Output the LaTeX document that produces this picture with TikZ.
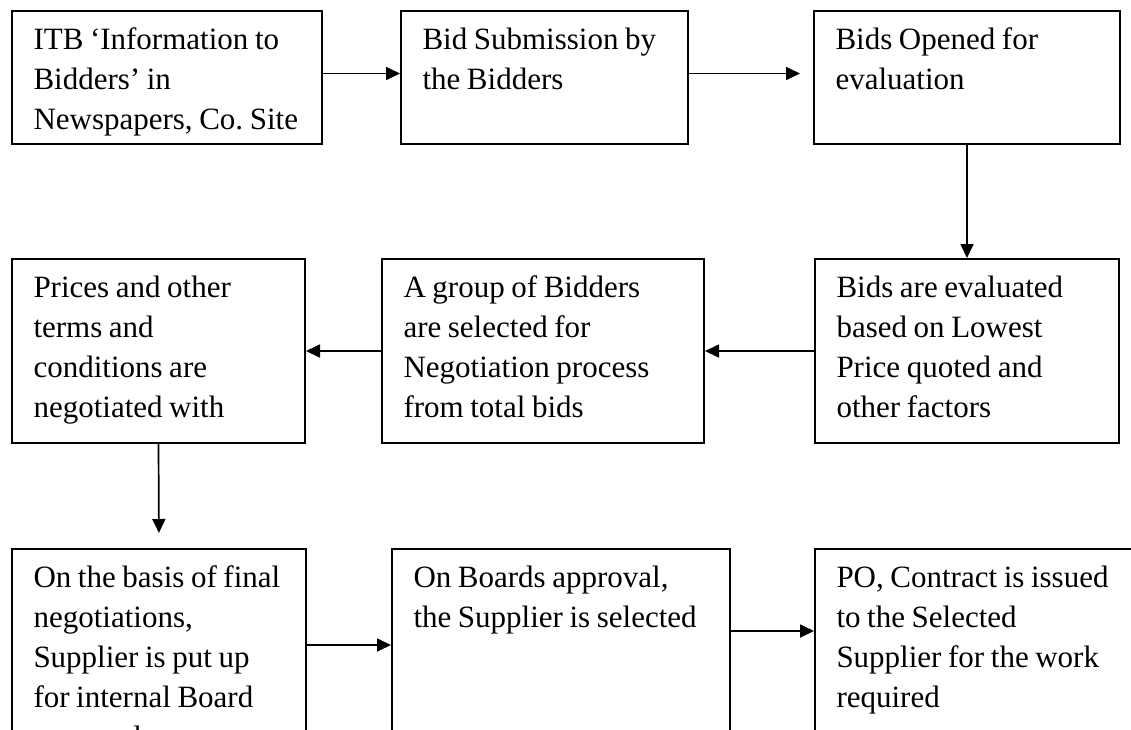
\documentclass[tikz,border=0pt]{standalone}
\usepackage{fontspec}
\setmainfont{Liberation Serif}[WordSpace=0.85]
\usetikzlibrary{positioning, arrows.meta}
\tikzset{
  stage/.style = {draw, line width=1pt, anchor=north west, align=flush left,
                  font={\fontsize{15.5}{20}\selectfont\frenchspacing\hyphenpenalty=10000},
                  inner xsep=10.75pt, inner ysep=4pt, text height=15pt},
  arr/.style   = {-{Triangle[length=7pt, width=6.5pt]}, line width=0.85pt}
}

\begin{document}
\begin{tikzpicture}[x=0.5pt, y=-0.5pt]
        \useasboundingbox (0,0) rectangle (1131,729);
        \clip (0,0) rectangle (1131,729);
        % top row
        \node[stage, text width=133.5pt, text depth=43.5pt] (itb)  at (11,10)
          {ITB `Information to\\Bidders' in\\Newspapers, Co. Site};
        \node[stage, text width=122pt, text depth=43.5pt] (submit) at (400,10)
          {Bid Submission by\\the Bidders};
        \node[stage, text width=131.5pt, text depth=43.5pt] (opened) at (813,10)
          {Bids Opened for\\evaluation};
        % middle row
        \node[stage, text width=130.5pt, text depth=69pt] (evald) at (814,258)
          {Bids are evaluated\\based on Lowest\\Price quoted and\\other factors};
        \node[stage, text width=139.5pt, text depth=69pt] (group) at (381,258)
          {A group of Bidders\\are selected for\\Negotiation process\\from total bids};
        \node[stage, text width=125pt, text depth=69pt] (nego) at (11,258)
          {Prices and other\\terms and\\conditions are\\negotiated with};
        % bottom row
        \node[stage, text width=125.5pt, text depth=73pt] (board) at (11,548)
          {On the basis of final\\negotiations,\\Supplier is put up\\for internal Board\\approval};
        \node[stage, text width=147.5pt, text depth=73pt] (approve) at (391,548)
          {On Boards approval,\\the Supplier is selected};
        \node[stage, text width=146.5pt, text depth=73pt] (po) at (814,548)
          {PO, Contract is issued\\to the Selected\\Supplier for the work\\required};
        % connectors
        \draw[arr] ([yshift=2pt]itb.east) -- ([yshift=2pt]submit.west);
        \draw[arr, shorten >=6.5pt] ([yshift=2pt]submit.east) -- ([yshift=2pt]opened.west);
        \draw[arr] (opened.south) -- (evald.north);
        \draw[arr] (evald.west) -- (group.east);
        \draw[arr] (group.west) -- (nego.east);
        \draw[arr, shorten >=7.5pt] (nego.south) -- (board.north);
        \draw[arr] (board.east) -- (approve.west |- board.east);
        \draw[arr] ([yshift=7pt]approve.east) -- ([yshift=7pt]po.west);
      \end{tikzpicture}
\end{document}
